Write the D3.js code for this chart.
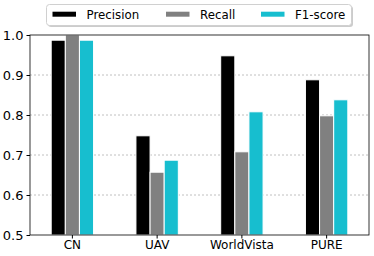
<!DOCTYPE html>
<html><head><meta charset="utf-8">
<script src="https://cdn.jsdelivr.net/npm/d3@7"></script>
<style>body{margin:0;background:#fff;} svg{display:block;font-family:"DejaVu Sans",sans-serif;}</style>
</head><body>
<script>
const categories = ["CN", "UAV", "WorldVista", "PURE"];
const seriesNames = ["Precision", "Recall", "F1-score"];
const precision = [0.987, 0.748, 0.948, 0.888];
const recall = [1.0, 0.657, 0.708, 0.798];
const f1 = [0.987, 0.687, 0.808, 0.838];
const yTicks = [0.5, 0.6, 0.7, 0.8, 0.9, 1.0];
const colors = ["#000000", "#808080", "#17becf"];
const series = [precision, recall, f1];

const W = 374, H = 256;
const m = {l: 30, r: 5, t: 35, b: 21};
const svg = d3.select("body").append("svg").attr("width", W).attr("height", H);
const x = d3.scaleBand().domain(categories).range([m.l, W - m.r]).padding(0);
const y = d3.scaleLinear().domain([0.5, 1.0]).range([H - m.b, m.t]);
const x1 = d3.scaleBand().domain(seriesNames).range([0, x.bandwidth() * 0.5]).padding(0);
const off = x.bandwidth() * 0.25;

// grid
svg.append("g").selectAll("line").data(yTicks.slice(1, -1)).join("line")
  .attr("x1", m.l).attr("x2", W - m.r)
  .attr("y1", d => y(d)).attr("y2", d => y(d))
  .attr("stroke", "#b0b0b0").attr("stroke-width", 0.8).attr("stroke-dasharray", "2,2");

// bars
seriesNames.forEach((s, i) => {
  svg.append("g").selectAll("rect").data(categories).join("rect")
    .attr("x", d => x(d) + off + x1(s))
    .attr("y", (d, j) => y(series[i][j]))
    .attr("width", x1.bandwidth())
    .attr("height", (d, j) => y(0.5) - y(series[i][j]))
    .attr("fill", colors[i]).attr("stroke", "#fff").attr("stroke-width", 1);
});

// frame
svg.append("rect").attr("x", m.l).attr("y", m.t).attr("width", W - m.l - m.r).attr("height", H - m.t - m.b)
  .attr("fill", "none").attr("stroke", "#000").attr("stroke-width", 0.8);

// axes
const ya = svg.append("g").attr("transform", `translate(${m.l},0)`)
  .call(d3.axisLeft(y).tickValues(yTicks).tickFormat(d3.format(".1f")).tickSize(3.5).tickPadding(3));
ya.select(".domain").remove();
ya.selectAll("text").attr("font-size", 13).attr("fill", "#000").attr("font-family", "DejaVu Sans");
const xa = svg.append("g").attr("transform", `translate(0,${H - m.b})`)
  .call(d3.axisBottom(x).tickSize(3.5).tickPadding(2));
xa.select(".domain").remove();
xa.selectAll("text").attr("font-size", 12).attr("fill", "#000").attr("font-family", "DejaVu Sans");

// legend
const lg = svg.append("g");
lg.append("rect").attr("x", 48).attr("y", 6).attr("width", 305).attr("height", 21).attr("rx", 3)
  .attr("fill", "#999").attr("opacity", 0.5);
lg.append("rect").attr("x", 46.5).attr("y", 4.5).attr("width", 305).attr("height", 21).attr("rx", 3)
  .attr("fill", "#fff").attr("stroke", "#d0d0d0").attr("stroke-width", 1);
const lx = [52.5, 166, 261];
seriesNames.forEach((s, i) => {
  lg.append("rect").attr("x", lx[i]).attr("y", 11.7).attr("width", 23.5).attr("height", 5).attr("fill", colors[i]);
  lg.append("text").attr("x", lx[i] + 34).attr("y", 19).attr("font-size", 11.8).text(s);
});
</script>
</body></html>
